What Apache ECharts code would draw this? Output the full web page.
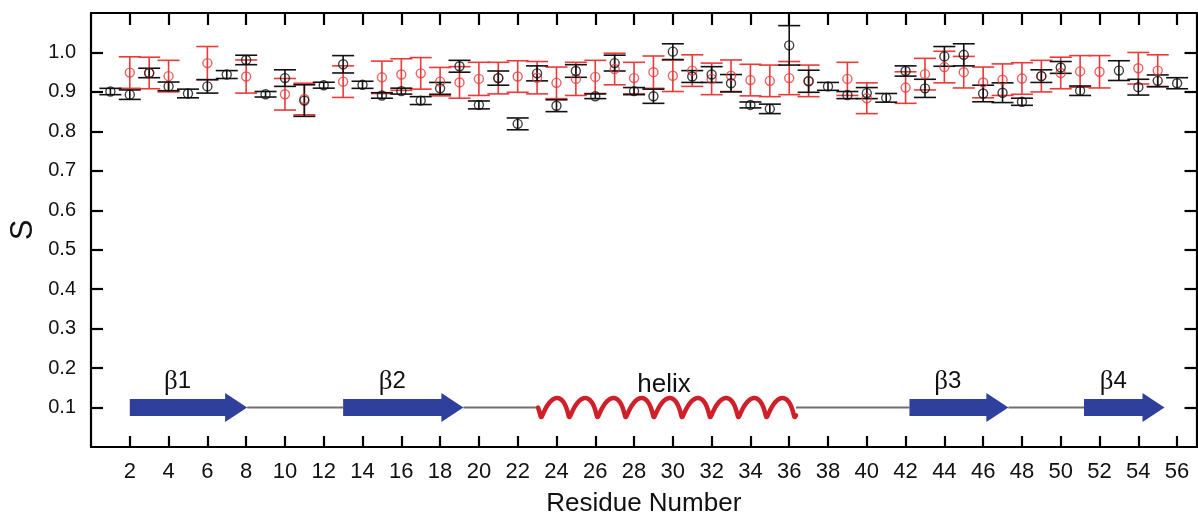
<!DOCTYPE html>
<html>
<head>
<meta charset="utf-8">
<script src="https://cdn.jsdelivr.net/npm/echarts@6/dist/echarts.min.js"></script>
<style>html,body{margin:0;padding:0;background:#fff}#c{width:1198px;height:522px}</style>
</head>
<body>
<div id="c"></div>
<script>
// ---------- data ----------
const residues = [1,2,3,4,5,6,7,8,9,10,11,12,13,14,15,16,17,18,19,20,21,22,23,24,25,26,27,28,29,30,31,32,33,34,35,36,37,38,39,40,41,42,43,44,45,46,47,48,49,50,51,52,53,54,55,56];
const sBlack = [0.901,0.893,0.948,0.914,0.896,0.914,0.944,0.981,0.894,0.935,0.878,0.917,0.970,0.918,0.891,0.902,0.878,0.909,0.965,0.867,0.935,0.819,0.947,0.865,0.953,0.889,0.973,0.902,0.889,1.002,0.939,0.944,0.922,0.867,0.857,1.018,0.927,0.914,0.892,0.897,0.885,0.953,0.909,0.990,0.994,0.896,0.898,0.875,0.940,0.962,0.903,null,0.954,0.912,0.928,0.922];
const errBlack = [0.008,0.012,0.012,0.011,0.011,0.017,0.010,0.012,0.007,0.021,0.040,0.0075,0.022,0.009,0.007,0.0075,0.010,0.015,0.015,0.010,0.018,0.015,0.019,0.015,0.016,0.006,0.020,0.009,0.018,0.020,0.015,0.020,0.022,0.0075,0.012,0.050,0.028,0.010,0.009,0.014,0.011,0.013,0.023,0.025,0.028,0.021,0.025,0.009,0.016,0.015,0.012,null,0.025,0.020,0.015,0.014];
const sRed = [null,0.949,0.948,0.940,null,0.973,null,0.939,null,0.894,0.882,null,0.926,null,0.937,0.944,0.947,0.926,0.924,0.933,0.935,0.939,0.936,0.923,0.933,0.938,0.958,0.935,0.950,0.941,0.954,0.933,0.941,0.930,0.928,0.935,0.928,null,0.933,0.884,null,0.911,0.945,0.963,0.950,0.924,0.931,0.934,0.940,0.948,0.952,0.951,null,0.960,0.954,null];
const errRed = [null,0.040,0.040,0.040,null,0.042,null,0.042,null,0.040,0.040,null,0.040,null,0.041,0.040,0.040,0.036,0.040,0.042,0.040,0.040,0.041,0.040,0.042,0.042,0.040,0.040,0.041,0.040,0.040,0.040,0.040,0.040,0.040,0.042,0.040,null,0.042,0.039,null,0.040,0.040,0.040,0.040,0.039,0.040,0.040,0.040,0.040,0.040,0.041,null,0.040,0.040,null];
const xTicks = [2,4,6,8,10,12,14,16,18,20,22,24,26,28,30,32,34,36,38,40,42,44,46,48,50,52,54,56];
const yTicks = [0.1,0.2,0.3,0.4,0.5,0.6,0.7,0.8,0.9,1.0];
// secondary structure (residue ranges)
const ssTypes  = ['strand','strand','helix','strand','strand'];
const ssLabels = ['β1','β2','helix','β3','β4'];
const ssStart  = [2, 13, 23.05, 42.2, 51.2];
const ssEnd    = [8.05, 19.2, 36.35, 47.3, 55.35];
const ssLevel  = 0.1;

// ---------- build ----------
const FONT = 'Liberation Sans, Arial, Helvetica, sans-serif';
function rows(vals, errs) {
  const out = [];
  residues.forEach((r, i) => { if (vals[i] != null) out.push([r, vals[i], errs[i]]); });
  return out;
}
const blackRows = rows(sBlack, errBlack);
const redRows = rows(sRed, errRed);

function errorSeries(data, color) {
  return {
    type: 'custom', data, silent: true, encode: {x: 0, y: 1},
    renderItem(params, api) {
      const x = api.value(0), v = api.value(1), e = api.value(2);
      const t = api.coord([x, v + e]), b = api.coord([x, v - e]);
      const hw = 11, st = {stroke: color, lineWidth: 1.6};
      return {type: 'group', children: [
        {type: 'line', shape: {x1: t[0], y1: t[1], x2: b[0], y2: b[1]}, style: st},
        {type: 'line', shape: {x1: t[0] - hw, y1: t[1], x2: t[0] + hw, y2: t[1]}, style: st},
        {type: 'line', shape: {x1: b[0] - hw, y1: b[1], x2: b[0] + hw, y2: b[1]}, style: st}
      ]};
    }
  };
}
function pointSeries(data, color) {
  return {
    type: 'scatter', data: data.map(d => [d[0], d[1]]), symbol: 'circle', symbolSize: 9, silent: true,
    itemStyle: {color: 'rgba(255,255,255,0)', borderColor: color, borderWidth: 1.4}
  };
}

const ssRows = ssStart.map((s, i) => [s, ssEnd[i], i]);
const ssSeries = {
  type: 'custom', data: ssRows, silent: true, encode: {x: [0, 1]}, clip: false, z: 3,
  renderItem(params, api) {
    const i = api.value(2);
    const p0 = api.coord([api.value(0), ssLevel]);
    const p1 = api.coord([api.value(1), ssLevel]);
    const yc = p0[1];
    const children = [];
    if (i < ssStart.length - 1) {
      const p2 = api.coord([ssStart[i + 1], ssLevel]);
      children.push({type: 'line', shape: {x1: p1[0], y1: yc, x2: p2[0], y2: yc},
        style: {stroke: '#707070', lineWidth: 2}});
    }
    if (ssTypes[i] === 'strand') {
      const head = 22, bh = 8.5, hh = 14.5;
      const xh = p1[0] - head;
      children.push({type: 'polygon', shape: {points: [
        [p0[0], yc - bh], [xh, yc - bh], [xh, yc - hh], [p1[0], yc],
        [xh, yc + hh], [xh, yc + bh], [p0[0], yc + bh]]},
        style: {fill: '#2f3f9c'}});
      const lbl = ssLabels[i];
      children.push({type: 'text', x: (p0[0] + xh) / 2, y: yc - 26, style: {
        text: '{g|' + lbl.charAt(0) + '}{n|' + lbl.slice(1) + '}',
        rich: {
          g: {fontFamily: 'Liberation Serif, Times New Roman, serif', fontSize: 27, fill: '#111'},
          n: {fontFamily: FONT, fontSize: 24, fill: '#111'}
        },
        align: 'center', verticalAlign: 'middle'}});
    } else {
      const t0 = -1.5 * Math.PI, t1 = 17.2 * Math.PI, A = 9.5, B = 3.0, D = 0.9;
      const L = p1[0] - p0[0];
      const p = (L - B * (Math.sin(t1) - Math.sin(t0)) - D * (Math.cos(t1) - Math.cos(t0))) / (t1 - t0);
      const pts = [];
      const N = 800;
      for (let k = 0; k <= N; k++) {
        const t = t0 + (t1 - t0) * k / N;
        pts.push([p0[0] + p * (t - t0) + B * (Math.sin(t) - Math.sin(t0)) + D * (Math.cos(t) - Math.cos(t0)),
                  yc - A * Math.cos(t)]);
      }
      children.push({type: 'polyline', shape: {points: pts},
        style: {stroke: '#cf1f28', lineWidth: 4.5, fill: null, lineCap: 'round', lineJoin: 'round'}});
      children.push({type: 'text', x: (p0[0] + p1[0]) / 2 - 3, y: yc - 23, style: {
        text: ssLabels[i], fontFamily: FONT, fontSize: 26, fill: '#111',
        align: 'center', verticalAlign: 'middle'}});
    }
    return {type: 'group', children};
  }
};

const axisLineStyle = {color: '#000', width: 2.2};
const chart = echarts.init(document.getElementById('c'), null, {renderer: 'canvas'});
chart.setOption({
  animation: false,
  backgroundColor: '#fff',
  grid: {left: 88, right: 1.5, top: 13, bottom: 70, containLabel: false},
  xAxis: [
    {type: 'value', min: 0, max: 57, position: 'bottom',
     axisLine: {show: true, onZero: false, lineStyle: axisLineStyle},
     axisTick: {show: true, inside: true, length: 11, customValues: xTicks, lineStyle: axisLineStyle},
     axisLabel: {show: true, customValues: xTicks, fontSize: 22, margin: 14, color: '#111', fontFamily: FONT},
     splitLine: {show: false},
     name: 'Residue Number', nameLocation: 'middle', nameGap: 44,
     nameTextStyle: {fontSize: 26, color: '#111', fontFamily: FONT}},
    {type: 'value', min: 0, max: 57, position: 'top',
     axisLine: {show: true, onZero: false, lineStyle: axisLineStyle},
     axisTick: {show: true, inside: true, length: 12, customValues: xTicks, lineStyle: axisLineStyle},
     axisLabel: {show: false}, splitLine: {show: false}}
  ],
  yAxis: [
    {type: 'value', min: 0, max: 1.1, position: 'left',
     axisLine: {show: true, onZero: false, lineStyle: axisLineStyle},
     axisTick: {show: true, inside: true, length: 12, customValues: yTicks, lineStyle: axisLineStyle},
     axisLabel: {show: true, customValues: yTicks, formatter: v => v.toFixed(1), fontSize: 20, margin: 15, color: '#111', fontFamily: FONT},
     splitLine: {show: false},
     name: 'S', nameLocation: 'middle', nameGap: 52, nameRotate: 90, nameMoveOverlap: false,
     nameTextStyle: {fontSize: 31, color: '#111', fontFamily: FONT}},
    {type: 'value', min: 0, max: 1.1, position: 'right',
     axisLine: {show: true, onZero: false, lineStyle: axisLineStyle},
     axisTick: {show: true, inside: true, length: 12, customValues: yTicks, lineStyle: axisLineStyle},
     axisLabel: {show: false}, splitLine: {show: false}}
  ],
  series: [
    errorSeries(redRows, '#ea3a3a'),
    pointSeries(redRows, '#ea3a3a'),
    errorSeries(blackRows, '#111'),
    pointSeries(blackRows, '#111'),
    ssSeries
  ]
});
</script>
</body>
</html>
